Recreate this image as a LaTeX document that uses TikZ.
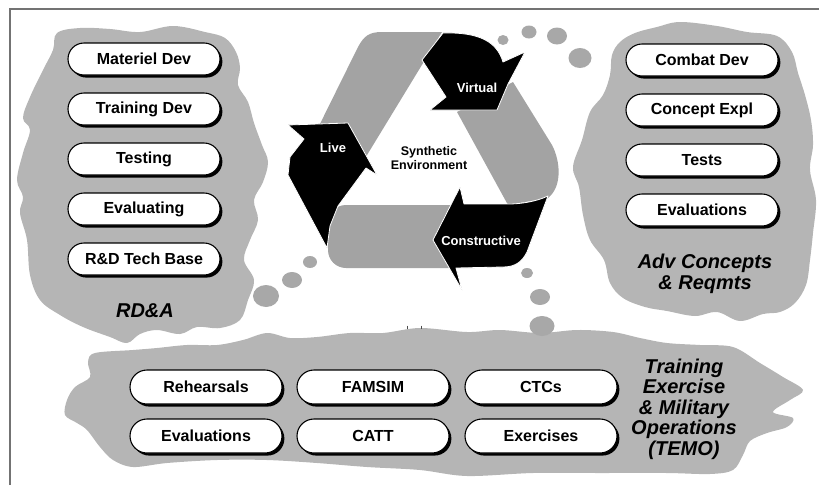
\documentclass[tikz,border=0pt]{standalone}
\usepackage{fontspec}
\setmainfont{Liberation Sans}
\usetikzlibrary{shadows}

\definecolor{cloudgray}{gray}{0.71}
\definecolor{bandgray}{gray}{0.64}
\definecolor{dotgray}{gray}{0.66}
\definecolor{framegray}{gray}{0.45}

\tikzset{
  pill/.style={draw=black, line width=1.1pt, fill=white, rounded corners=16pt,
    minimum width=152pt, minimum height=32pt, inner sep=0pt,
    font=\fontsize{16}{18}\selectfont\bfseries,
    drop shadow={shadow xshift=2.4pt, shadow yshift=-2.6pt, fill=black, opacity=1}},
  groupname/.style={align=center, inner sep=0pt,
    font=\fontsize{20}{21}\selectfont\bfseries\itshape},
  cyclelabel/.style={text=white, inner sep=0pt, font=\fontsize{13}{14}\selectfont\bfseries},
  arrowpart/.style={fill=black, draw=white, line width=0.8pt, line join=round},
  band/.style={fill=bandgray},
  cloud/.style={fill=cloudgray},
  bubble/.style={fill=dotgray}
}

\begin{document}
\begin{tikzpicture}[x=1pt, y=-1pt]
\useasboundingbox (0,0) rectangle (819,485);

% frame
\draw[framegray, line width=2pt] (10,485) -- (10,8.5) -- (819,8.5);

% clouds
\fill[cloud] plot[smooth cycle, tension=0.6] coordinates {
 (57,33) (80,28) (110,29) (140,32) (173,26) (205,32) (225,38) (236,52)
 (240,68) (238,85) (248,102) (254,123) (262,145) (268,162) (263,182)
 (254,200) (258,220) (250,240) (244,260) (254,280) (248,300) (240,320)
 (220,328) (197,327) (180,334) (157,330) (140,334) (127,343) (110,337)
 (83,327) (60,315) (40,300) (30,275) (27,240) (20,213) (23,197) (17,180)
 (23,153) (30,130) (23,118) (30,97) (43,70) (53,50)};

\fill[cloud] plot[smooth cycle, tension=0.6] coordinates {
 (680,22) (717,26) (747,32) (777,36) (792,52) (798,73) (805,95) (811,120)
 (813,145) (810,170) (816,200) (813,233) (810,260) (806,285) (795,303)
 (780,312) (763,314) (740,321) (717,312) (695,316) (667,311) (645,307)
 (623,298) (610,283) (604,260) (590,240) (583,215) (579,187) (573,167)
 (582,140) (590,112) (603,95) (610,75) (612,55) (620,42) (635,33) (657,27)};

\fill[cloud] plot[smooth cycle, tension=0.55] coordinates {
 (65,415) (67,400) (75,387) (90,377) (88,362) (95,353) (133,350) (157,348)
 (187,345) (217,345) (243,340) (267,333) (290,338) (317,337) (350,333)
 (383,333) (420,328) (467,332) (500,330) (540,333) (577,330) (613,332)
 (640,338) (667,343) (700,345) (733,347) (760,363) (783,377) (803,390)
 (790,400) (773,412) (793,418) (787,427) (767,433) (750,441) (743,455)
 (733,470) (710,474) (667,473) (600,473) (533,473) (467,476) (420,470)
 (367,467) (317,463) (267,460) (217,460) (167,463) (133,467) (113,460)
 (100,447) (87,430) (77,423)};

% bubble trails
\fill[bubble] (503,40) ellipse [x radius=5.5pt, y radius=5pt];
\fill[bubble] (529,32) ellipse [x radius=7.5pt, y radius=6.5pt];
\fill[bubble] (557,36) ellipse [x radius=10pt, y radius=8.5pt];
\fill[bubble] (580,58) ellipse [x radius=11.5pt, y radius=10pt];
\fill[bubble] (310,262) ellipse [x radius=7pt, y radius=6pt];
\fill[bubble] (292,280) ellipse [x radius=10pt, y radius=8pt];
\fill[bubble] (266,296) ellipse [x radius=13pt, y radius=11pt];
\fill[bubble] (527,273) ellipse [x radius=6pt, y radius=5pt];
\fill[bubble] (540,297) ellipse [x radius=10pt, y radius=8pt];
\fill[bubble] (542,326) ellipse [x radius=12.5pt, y radius=10pt];

% small tick marks under the cycle
\draw[black!70, line width=0.8pt] (407,325.5) -- (407,329);
\draw[black!70, line width=0.8pt] (421,325.5) -- (421,329);

% cycle: gray bands
\fill[band] (312,140) -- (358,47) .. controls (364,36) and (369,32) .. (382,32)
  -- (442,32) -- (364,160) -- cycle;
\fill[band] (457,112) -- (513,82) -- (552,145) .. controls (560,160) and (563,186) .. (548,198)
  -- (508,205) -- cycle;
\fill[band] (475,205) -- (346,205) .. controls (336,205) and (328,213) .. (328,223)
  -- (328,250) .. controls (328,260) and (336,268) .. (346,268) -- (475,268) -- cycle;

% cycle: black arrows
\path[arrowpart] (288,125) -- (348,123) -- (377,175) -- (366,168) -- (338,206)
  -- (330,226) -- (327,248) -- (288,175) -- (290,157) -- (304,139) -- cycle;
\path[arrowpart] (443,33) .. controls (480,32) and (497,42) .. (503,62) -- (525,52)
  -- (508,84) -- (497,110) -- (430,110) -- (446,97) -- (422,60) -- cycle;
\path[arrowpart] (460,187) -- (433,240) -- (462,290) -- (456,268) -- (503,267)
  .. controls (515,267) and (522,262) .. (527,252) -- (548,196)
  .. controls (535,202) and (520,204) .. (508,204) -- (464,204) -- cycle;

% cycle labels
\node[cyclelabel] (live) at (333,148) {Live};
\node[cyclelabel] (virtual) at (477,88) {Virtual};
\node[cyclelabel] (constructive) at (481,241) {Constructive};
\node[align=center, inner sep=0pt, font=\fontsize{12.5}{13.5}\selectfont\bfseries]
  (synth) at (429,158) {Synthetic\\Environment};

% RD&A group
\node[pill] (matdev) at (144,59) {Materiel Dev};
\node[pill] (trndev) at (144,109) {Training Dev};
\node[pill] (testing) at (144,159) {Testing};
\node[pill] (evaluating) at (144,209) {Evaluating};
\node[pill] (rdtech) at (144,259) {R\&D Tech Base};
\node[groupname] (rda) at (145,311) {RD\&A};

% Advanced concepts group
\node[pill] (combat) at (702,60) {Combat Dev};
\node[pill] (concept) at (702,110) {Concept Expl};
\node[pill] (tests) at (702,160) {Tests};
\node[pill] (evals) at (702,210) {Evaluations};
\node[groupname] (acr) at (705,274) {Adv Concepts\\\& Reqmts};

% TEMO group
\node[pill, minimum height=34pt, rounded corners=17pt] (rehearsals) at (206,387) {Rehearsals};
\node[pill, minimum height=34pt, rounded corners=17pt] (famsim) at (373,387) {FAMSIM};
\node[pill, minimum height=34pt, rounded corners=17pt] (ctcs) at (541,387) {CTCs};
\node[pill, minimum height=34pt, rounded corners=17pt] (evaluations) at (206,436) {Evaluations};
\node[pill, minimum height=34pt, rounded corners=17pt] (catt) at (373,436) {CATT};
\node[pill, minimum height=34pt, rounded corners=17pt] (exercises) at (541,436) {Exercises};
\node[groupname, font=\fontsize{20}{20.5}\selectfont\bfseries\itshape] (temo) at (684,409)
  {Training\\Exercise\\\& Military\\Operations\\(TEMO)};
\end{tikzpicture}
\end{document}
